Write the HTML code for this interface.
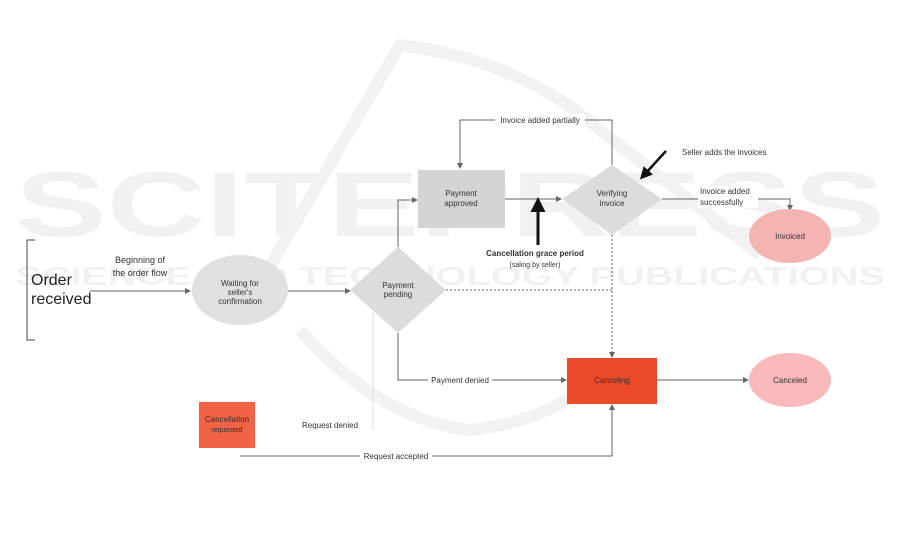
<!DOCTYPE html>
<html><head><meta charset="utf-8"><style>
html,body{margin:0;padding:0;background:#fff;}
svg{display:block;}
text{font-family:"Liberation Sans",sans-serif;}
</style></head><body>
<svg width="901" height="551" viewBox="0 0 901 551" xmlns="http://www.w3.org/2000/svg">
<defs>
<marker id="a" markerWidth="6" markerHeight="6" refX="5" refY="3" orient="auto"><path d="M0,0 L6,3 L0,6 z" fill="#666"/></marker>
<marker id="b" markerWidth="5" markerHeight="5" refX="2" refY="2.5" orient="auto"><path d="M0,0 L5,2.5 L0,5 z" fill="#111"/></marker>
</defs>
<g fill="none" stroke="#f2f2f2" stroke-width="12">
<path d="M250,300 L400,45 Q520,60 600,130 Q690,200 760,255"/>
<path d="M300,330 Q380,420 470,430 Q560,420 600,370"/>
</g>
<text x="15" y="236" font-size="92" font-weight="bold" fill="#f1f1f1" textLength="870" lengthAdjust="spacingAndGlyphs">SCITEPRESS</text>
<text x="15" y="285" font-size="26" font-weight="bold" fill="#f1f1f1" textLength="870" lengthAdjust="spacingAndGlyphs">SCIENCE AND TECHNOLOGY PUBLICATIONS</text>

<g stroke="#666" stroke-width="1" fill="none">
<path d="M35,240 L27,240 L27,340 L35,340" stroke="#444"/>
<line x1="90" y1="291" x2="190" y2="291" marker-end="url(#a)"/>
<line x1="288" y1="291" x2="350" y2="291" marker-end="url(#a)"/>
<path d="M398,247 L398,200 L417,200" marker-end="url(#a)"/>
<path d="M612,165 L612,120 L460,120 L460,168" marker-end="url(#a)"/>
<line x1="505" y1="199" x2="561" y2="199" marker-end="url(#a)"/>
<path d="M662,199 L790,199 L790,210" marker-end="url(#a)"/>
<path d="M446,290 L612,290" stroke-dasharray="2,2"/>
<path d="M612,235 L612,357" stroke-dasharray="2,2" marker-end="url(#a)"/>
<path d="M398,333 L398,380 L566,380" marker-end="url(#a)"/>
<line x1="657" y1="380" x2="748" y2="380" marker-end="url(#a)"/>
<path d="M240,456 L612,456 L612,405" marker-end="url(#a)"/>
<line x1="373" y1="310" x2="373" y2="430" stroke="#ddd"/>
</g>
<g stroke="#111" stroke-width="3">
<line x1="538" y1="245" x2="538" y2="206" marker-end="url(#b)"/>
<line x1="666" y1="151" x2="645" y2="174" stroke-width="2.5" marker-end="url(#b)"/>
</g>

<ellipse cx="240" cy="290" rx="48" ry="35" fill="#e0e0e0"/>
<polygon points="398,247 446,290 398,333 350,290" fill="#dcdcdc"/>
<rect x="418" y="170" width="87" height="58" fill="#d4d4d4"/>
<polygon points="612,165 662,199 612,235 562,199" fill="#dcdcdc"/>
<ellipse cx="790" cy="236" rx="41" ry="27" fill="#f4b4b4"/>
<rect x="567" y="358" width="90" height="46" fill="#ea4a2a"/>
<ellipse cx="790" cy="380" rx="41" ry="27" fill="#f7b9b9"/>
<rect x="199" y="402" width="56" height="46" fill="#f26244"/>

<g font-size="8" fill="#333" text-anchor="middle">
<rect x="495" y="114" width="90" height="12" fill="#fff"/>
<text x="540" y="123">Invoice added partially</text>
<text x="140" y="263" font-size="9">Beginning of</text>
<text x="140" y="276" font-size="9">the order flow</text>
<text x="240" y="286">Waiting for</text>
<text x="240" y="295">seller's</text>
<text x="240" y="304">confirmation</text>
<text x="398" y="288">Payment</text>
<text x="398" y="297">pending</text>
<text x="461" y="196">Payment</text>
<text x="461" y="206">approved</text>
<text x="612" y="196">Verifying</text>
<text x="612" y="206">invoice</text>
<text x="535" y="256" font-weight="bold">Cancellation grace period</text>
<text x="535" y="267" font-size="7">(saling by seller)</text>
<text x="790" y="239">Invoiced</text>
<text x="612" y="383">Canceling</text>
<text x="790" y="383">Canceled</text>
<text x="227" y="422">Cancellation</text>
<text x="227" y="432" font-size="7">requested</text>
<rect x="428" y="375" width="64" height="10" fill="#fff"/>
<text x="460" y="383">Payment denied</text>
<rect x="360" y="451" width="72" height="10" fill="#fff"/>
<text x="396" y="459">Request accepted</text>
<text x="330" y="428">Request denied</text>
</g>
<g font-size="8" fill="#333">
<text x="682" y="155">Seller adds the invoices</text>
<rect x="698" y="186" width="60" height="22" fill="#fff"/>
<text x="700" y="194">Invoice added</text>
<text x="700" y="205">successfully</text>
</g>
<text x="31" y="285" font-size="16" fill="#222">Order</text>
<text x="31" y="304" font-size="16" fill="#222">received</text>
</svg>
</body></html>
